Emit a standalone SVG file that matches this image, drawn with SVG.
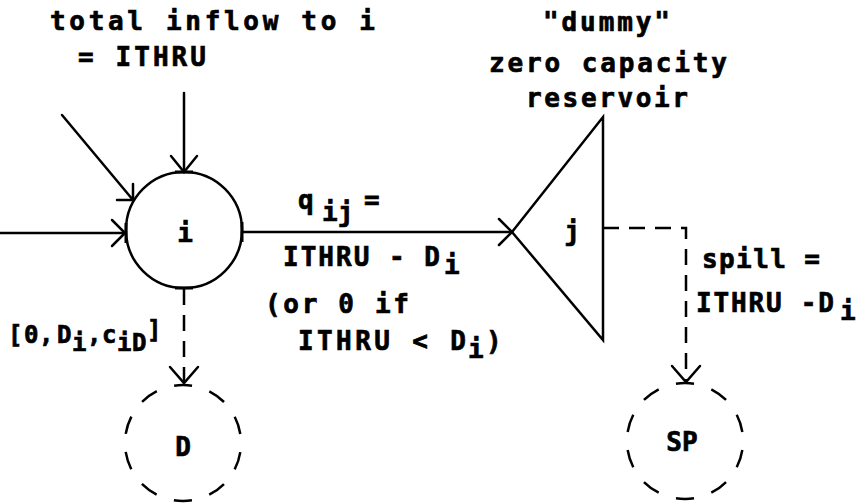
<svg xmlns="http://www.w3.org/2000/svg" width="859" height="504" viewBox="0 0 859 504">
<style>
.t{font-family:"DejaVu Sans Mono","Liberation Mono",monospace;font-weight:bold;font-size:26px;fill:#000;stroke:#000;stroke-width:0.7}
.s{font-size:24px}
.ln{stroke:#000;stroke-width:2.5;fill:none;stroke-linecap:round}
.ds{stroke:#000;stroke-width:2.5;fill:none;stroke-dasharray:16 10}
.dc{stroke:#000;stroke-width:2.5;fill:none;stroke-dasharray:18.2 18.2;stroke-dashoffset:9.1}
.bar{stroke:#000;stroke-width:3;fill:none}
</style>
<rect width="859" height="504" fill="#fff"/>
<g id="labels">
<text class="t" x="50" y="30" textLength="325" lengthAdjust="spacing">total inflow to i</text>
<text class="t" x="78" y="66" textLength="128" lengthAdjust="spacing">= ITHRU</text>
<text class="t" x="543" y="31" textLength="127" lengthAdjust="spacing">"dummy"</text>
<text class="t" x="489" y="72" textLength="238" lengthAdjust="spacing">zero capacity</text>
<text class="t" x="526" y="107" textLength="162" lengthAdjust="spacing">reservoir</text>
</g>
<g id="connectors">
<line class="ln" x1="0" y1="233" x2="125" y2="233"/>
<polyline class="ln" points="112,220 125,233 112,246"/>
<line class="ln" x1="62" y1="115" x2="133" y2="200"/>
<polyline class="ln" points="133,184 133,200 117,200"/>
<line class="ln" x1="184" y1="93" x2="184" y2="172"/>
<polyline class="ln" points="171,156 184,172 197,156"/>
<line class="ln" x1="243" y1="232" x2="512" y2="232"/>
<polyline class="ln" points="499,219 512,232 499,245"/>
<line class="ds" x1="184" y1="289" x2="184" y2="383"/>
<polyline class="ln" points="170,367 184,383 198,367"/>
<polyline class="ds" points="603,228 686,228 686,382"/>
<polyline class="ln" points="672,366 686,382 700,366"/>
<text class="t" x="298" y="209">q<tspan x="322" y="221">ij</tspan><tspan x="364" y="209">=</tspan></text>
<text class="t" x="283" y="266"><tspan textLength="157" lengthAdjust="spacing">ITHRU - D</tspan><tspan x="444" y="274">i</tspan></text>
<text class="t" x="265" y="313" textLength="144" lengthAdjust="spacing">(or 0 if</text>
<text class="t" x="298" y="350"><tspan textLength="168" lengthAdjust="spacing">ITHRU &lt; D</tspan><tspan x="468" y="358">i</tspan><tspan x="486" y="350">)</tspan></text>
<text class="t s" x="8" y="343">[<tspan x="24">0</tspan><tspan x="39">,</tspan><tspan x="57">D</tspan><tspan x="72" y="351">i</tspan><tspan x="87" y="343">,</tspan><tspan x="102">c</tspan><tspan x="117" y="351">i</tspan><tspan x="132">D</tspan><tspan x="147" y="338">]</tspan></text>
<text class="t" x="702" y="268" textLength="118" lengthAdjust="spacing">spill =</text>
<text class="t" x="696" y="312"><tspan textLength="138" lengthAdjust="spacing">ITHRU -D</tspan><tspan x="840" y="320">i</tspan></text>
</g>
<g id="node-i">
<circle class="ln" cx="184" cy="230" r="58"/>
<line class="bar" x1="175" y1="172" x2="193" y2="172"/>
<line class="bar" x1="126" y1="223" x2="126" y2="243"/>
<line class="bar" x1="242" y1="222" x2="242" y2="242"/>
<line class="bar" x1="175" y1="288" x2="193" y2="288"/>
<text class="t" x="185" y="242" text-anchor="middle">i</text>
</g>
<g id="node-j">
<polygon class="ln" points="512,232 603,117 603,340"/>
<text class="t" x="572" y="240" text-anchor="middle">j</text>
</g>
<g id="node-D">
<path class="dc" d="M183,385 A58,58 0 1 1 183,501 A58,58 0 1 1 183,385"/>
<text class="t" x="183" y="456" text-anchor="middle">D</text>
</g>
<g id="node-SP">
<path class="dc" d="M685,383 A58,58 0 1 1 685,499 A58,58 0 1 1 685,383"/>
<text class="t" x="682" y="451" text-anchor="middle">SP</text>
</g>
</svg>
